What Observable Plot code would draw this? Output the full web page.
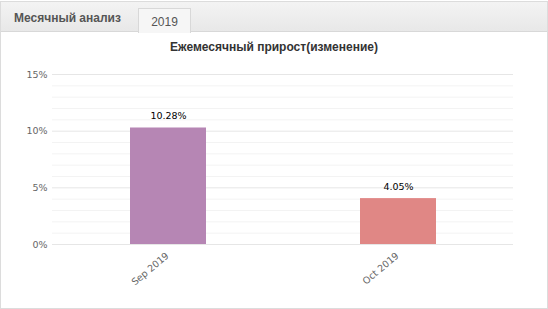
<!DOCTYPE html>
<html>
<head>
<meta charset="utf-8">
<script src="https://cdn.jsdelivr.net/npm/d3@7"></script>
<script src="https://cdn.jsdelivr.net/npm/@observablehq/plot@0.6"></script>
<style>
  html, body { margin: 0; padding: 0; background: #fff; }
  #frame { position: absolute; left: 0; top: 1px; width: 546px; height: 306px; border: 1px solid #dcdcdc; background: #fff; }
  #tabs { position: absolute; left: 0; top: 0; width: 546px; height: 29px; border-bottom: 1px solid #d8d8d8;
          background: linear-gradient(#f3f3f3, #e8e8e8); }
  #tab1 { position: absolute; left: 13px; top: 9px; font: bold 12px "Liberation Sans", Arial, sans-serif; color: #555; }
  #tab2 { position: absolute; left: 137px; top: 6px; width: 51px; height: 24px; border: 1px solid #d8d8d8; border-bottom: none;
          background: #f6f6f6; font: 12px "Liberation Sans", Arial, sans-serif; color: #555; text-align: center; line-height: 26px; }
  #title { position: absolute; left: 0; top: 40px; width: 548px; text-align: center; font: bold 12px "Liberation Sans", Arial, sans-serif; color: #333; }
  #chart { position: absolute; left: 0; top: 60px; }
</style>
</head>
<body>
<div id="frame">
  <div id="tabs">
    <div id="tab1">Месячный анализ</div>
    <div id="tab2">2019</div>
  </div>
</div>
<div id="title">Ежемесячный прирост(изменение)</div>
<div id="chart"></div>
<script>
const months = ["Sep 2019", "Oct 2019"];
const values = [10.28, 4.05];
const barColors = ["#b686b4", "#e08785"];
const yTicks = [0, 5, 10, 15];
const minorTicks = [1, 2, 3, 4, 6, 7, 8, 9, 11, 12, 13, 14];

const data = months.map((m, i) => ({ month: m, value: values[i], color: barColors[i] }));

const chart = Plot.plot({
  width: 548,
  height: 245,
  marginLeft: 52,
  marginRight: 35,
  marginTop: 14,
  marginBottom: 61,
  style: { fontFamily: "DejaVu Sans, Verdana, sans-serif", fontSize: "9px", background: "transparent" },
  x: { type: "band", domain: months, padding: 0, axis: null },
  y: { domain: [0, 15], axis: null },
  marks: [
    Plot.ruleY(minorTicks, { stroke: "#f3f3f3" }),
    Plot.ruleY(yTicks, { stroke: "#e6e6e6" }),
    Plot.axisY({ ticks: yTicks, tickSize: 0, tickPadding: 5, tickFormat: d => d + "%", fill: "#666", fontSize: 9.5, label: null }),
    Plot.barY(data, { x: "month", y: "value", fill: d => d.color, insetLeft: 77, insetRight: 77 }),
    Plot.text(data, { x: "month", y: "value", text: d => d.value.toFixed(2) + "%", dy: -12, fill: "#000", fontSize: 9.5 }),
    Plot.axisX({ tickSize: 0, tickRotate: -40, tickPadding: 10, fill: "#666", fontSize: 9.5, dx: -1, label: null })
  ]
});
document.getElementById("chart").appendChild(chart);
</script>
</body>
</html>
